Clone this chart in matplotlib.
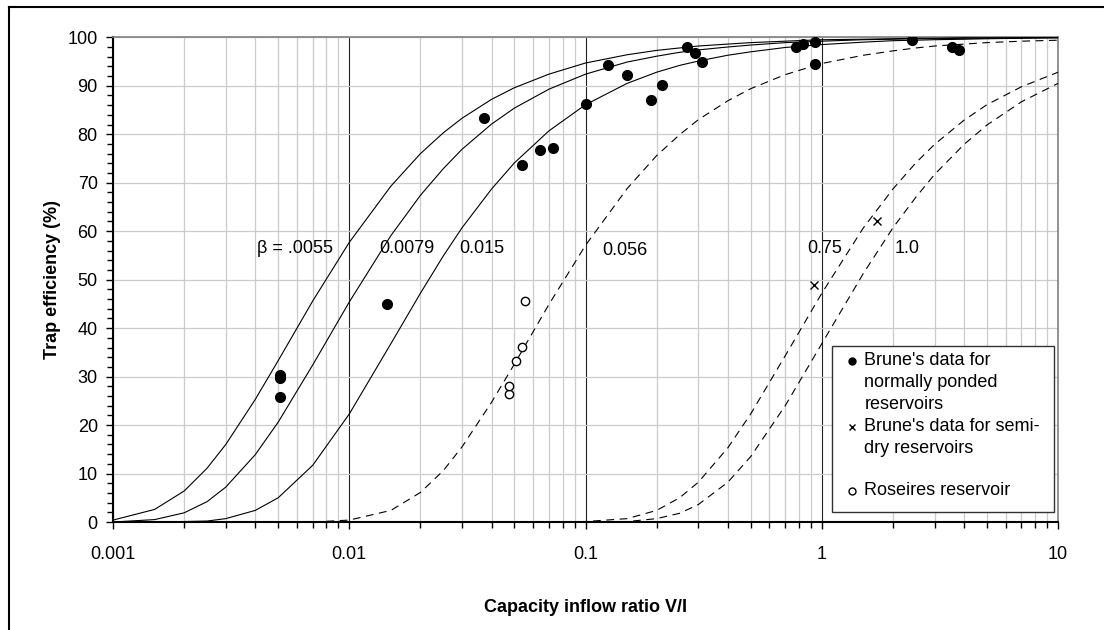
import matplotlib
matplotlib.use('Agg')
import matplotlib.pyplot as plt
from matplotlib.lines import Line2D
from matplotlib.patches import Rectangle
from matplotlib.ticker import FixedLocator, LogLocator, MultipleLocator, NullFormatter

plt.rcParams['font.family'] = ['Liberation Sans', 'DejaVu Sans']

ratio = [0.001, 0.0015, 0.002, 0.0025, 0.003, 0.004, 0.005, 0.007,
         0.01, 0.015, 0.02, 0.025, 0.03, 0.04, 0.05, 0.07,
         0.1, 0.15, 0.2, 0.25, 0.3, 0.4, 0.5, 0.7,
         1, 1.5, 2, 2.5, 3, 4, 5, 7, 10]

te_0055 = [0.4, 2.6, 6.4, 11.1, 16.0, 25.3, 33.3, 45.6,
           57.7, 69.3, 76.0, 80.3, 83.3, 87.2, 89.6, 92.4,
           94.7, 96.4, 97.3, 97.8, 98.2, 98.6, 98.9, 99.2,
           99.5, 99.6, 99.7, 99.8, 99.8, 99.9, 99.9, 99.9, 100.0]
te_0079 = [0.0, 0.5, 1.9, 4.2, 7.2, 13.9, 20.6, 32.4,
           45.4, 59.1, 67.4, 72.9, 76.9, 82.1, 85.4, 89.3,
           92.4, 94.9, 96.1, 96.9, 97.4, 98.0, 98.4, 98.9,
           99.2, 99.5, 99.6, 99.7, 99.7, 99.8, 99.8, 99.9, 99.9]
te_015 = [0.0, 0.0, 0.1, 0.2, 0.7, 2.4, 5.0, 11.7,
          22.3, 36.8, 47.2, 54.9, 60.7, 68.7, 74.1, 80.7,
          86.1, 90.5, 92.8, 94.2, 95.1, 96.3, 97.0, 97.9,
          98.5, 99.0, 99.3, 99.4, 99.5, 99.6, 99.7, 99.8, 99.9]
te_056 = [0.0, 0.0, 0.0, 0.0, 0.0, 0.0, 0.0, 0.0,
          0.4, 2.4, 6.1, 10.6, 15.5, 24.7, 32.6, 44.9,
          57.1, 68.8, 75.6, 79.9, 83.0, 86.9, 89.4, 92.3,
          94.6, 96.3, 97.2, 97.8, 98.2, 98.6, 98.9, 99.2, 99.4]
te_075 = [0.0, 0.0, 0.0, 0.0, 0.0, 0.0, 0.0, 0.0,
          0.0, 0.0, 0.0, 0.0, 0.0, 0.0, 0.0, 0.0,
          0.1, 0.7, 2.4, 5.0, 8.2, 15.3, 22.3, 34.3,
          47.2, 60.7, 68.7, 74.1, 77.9, 82.9, 86.1, 89.8, 92.8]
te_10 = [0.0, 0.0, 0.0, 0.0, 0.0, 0.0, 0.0, 0.0,
         0.0, 0.0, 0.0, 0.0, 0.0, 0.0, 0.0, 0.0,
         0.0, 0.1, 0.7, 1.8, 3.6, 8.2, 13.5, 24.0,
         36.8, 51.3, 60.7, 67.0, 71.7, 77.9, 81.9, 86.7, 90.5]

curve_values = [te_0055, te_0079, te_015, te_056, te_075, te_10]
curve_dashed = [False, False, False, True, True, True]

# beta labels and where they sit (ratio of left edge, efficiency)
beta_labels = ['β = .0055', '0.0079', '0.015', '0.056', '0.75', '1.0']
beta_label_x = [0.00405, 0.0134, 0.0292, 0.118, 0.87, 2.04]
beta_label_y = [56.5, 56.5, 56.5, 56.1, 56.5, 56.5]

# Brune's data, normally ponded reservoirs
brune_x = [0.0051, 0.0051, 0.0051, 0.0144, 0.037, 0.054, 0.064, 0.073,
           0.1, 0.125, 0.15, 0.19, 0.21, 0.27, 0.29, 0.31,
           0.78, 0.83, 0.94, 0.94, 2.42, 3.56, 3.80]
brune_y = [30.4, 29.7, 25.7, 44.9, 83.4, 73.7, 76.8, 77.2,
           86.3, 94.2, 92.2, 87.0, 90.1, 98.1, 96.8, 95.0,
           98.0, 98.6, 99.0, 94.4, 99.4, 98.0, 97.3]

# Brune's data, semi-dry reservoirs
semidry_x = [0.93, 1.72]
semidry_y = [49.0, 62.0]

# Roseires reservoir
roseires_x = [0.0475, 0.0475, 0.0508, 0.0538, 0.0556]
roseires_y = [26.4, 28.1, 33.2, 36.2, 45.6]

x_ticks = [0.001, 0.01, 0.1, 1, 10]
x_tick_labels = ['0.001', '0.01', '0.1', '1', '10']

fs = 13

fig = plt.figure(figsize=(11.04, 6.3), dpi=100)
ax = fig.add_axes([0.1024, 0.1714, 0.8560, 0.7694])

for vals, dashed in zip(curve_values, curve_dashed):
    if dashed:
        ax.plot(ratio, vals, color='black', lw=0.8, dashes=(7, 5), zorder=3)
    else:
        ax.plot(ratio, vals, color='black', lw=0.8, zorder=3)

ax.plot(brune_x, brune_y, 'o', color='black', ms=7, zorder=4)
ax.plot(semidry_x, semidry_y, 'x', color='black', ms=6, mew=1, zorder=4)
ax.plot(roseires_x, roseires_y, 'o', mfc='white', mec='black', ms=6,
        mew=1, zorder=4)

for lab, lx, ly in zip(beta_labels, beta_label_x, beta_label_y):
    ax.text(lx, ly, lab, fontsize=fs, ha='left', va='center', zorder=5)

ax.set_xscale('log')
ax.set_xlim(0.001, 10)
ax.set_ylim(0, 100)

ax.xaxis.set_major_locator(FixedLocator(x_ticks))
ax.set_xticklabels(x_tick_labels)
ax.xaxis.set_minor_locator(LogLocator(base=10, subs=range(2, 10)))
ax.xaxis.set_minor_formatter(NullFormatter())
ax.yaxis.set_major_locator(MultipleLocator(10))
ax.yaxis.set_minor_locator(MultipleLocator(2))

ax.grid(which='minor', axis='x', color='#cccccc', lw=0.9)
ax.grid(which='major', axis='x', color='#222222', lw=0.8)
ax.grid(which='major', axis='y', color='#cccccc', lw=0.9)
ax.set_axisbelow(True)

ax.tick_params(axis='x', which='major', direction='out', length=5,
               width=1, pad=12, labelsize=fs)
ax.tick_params(axis='x', which='minor', direction='out', length=4, width=1)
ax.tick_params(axis='y', which='major', direction='out', length=5,
               width=1, pad=6, labelsize=fs)
ax.tick_params(axis='y', which='minor', direction='out', length=4, width=1)

for side in ['left', 'bottom']:
    ax.spines[side].set_linewidth(1.5)
    ax.spines[side].set_color('black')
for side in ['top', 'right']:
    ax.spines[side].set_linewidth(1.2)
    ax.spines[side].set_color('#808080')

ax.set_xlabel('Capacity inflow ratio V/I', fontsize=fs, fontweight='bold')
ax.set_ylabel('Trap efficiency (%)', fontsize=fs, fontweight='bold')
ax.xaxis.set_label_coords(0.5, -0.158)
ax.yaxis.set_label_coords(-0.055, 0.5)

# legend box drawn by hand so markers line up with the first text line
box = Rectangle((0.7605, 0.0213), 0.235, 0.3418, transform=ax.transAxes,
                facecolor='white', edgecolor='#333333', lw=1, zorder=6)
ax.add_patch(box)
legend_entries = [
    ('o', 'black', "Brune's data for\nnormally ponded\nreservoirs", 0.3322),
    ('x', 'black', "Brune's data for semi-\ndry reservoirs", 0.1966),
    ('o', 'white', 'Roseires reservoir', 0.0633),
]
for mk, fc, lab, ly in legend_entries:
    ax.plot([0.7818], [ly], mk, mfc=fc, mec='black', color='black', ms=5,
            mew=1, transform=ax.transAxes, clip_on=False, zorder=7)
    ax.text(0.795, ly + 0.0185, lab, transform=ax.transAxes, fontsize=fs,
            ha='left', va='top', linespacing=1.38, zorder=7)

# outer chart frame, cut off at the right and bottom edges
fig.add_artist(Line2D([0.0082, 0.0082], [0, 0.989], color='black', lw=1.5))
fig.add_artist(Line2D([0.0082, 1], [0.989, 0.989], color='black', lw=1.5))

fig.savefig('out.png', dpi=100)
